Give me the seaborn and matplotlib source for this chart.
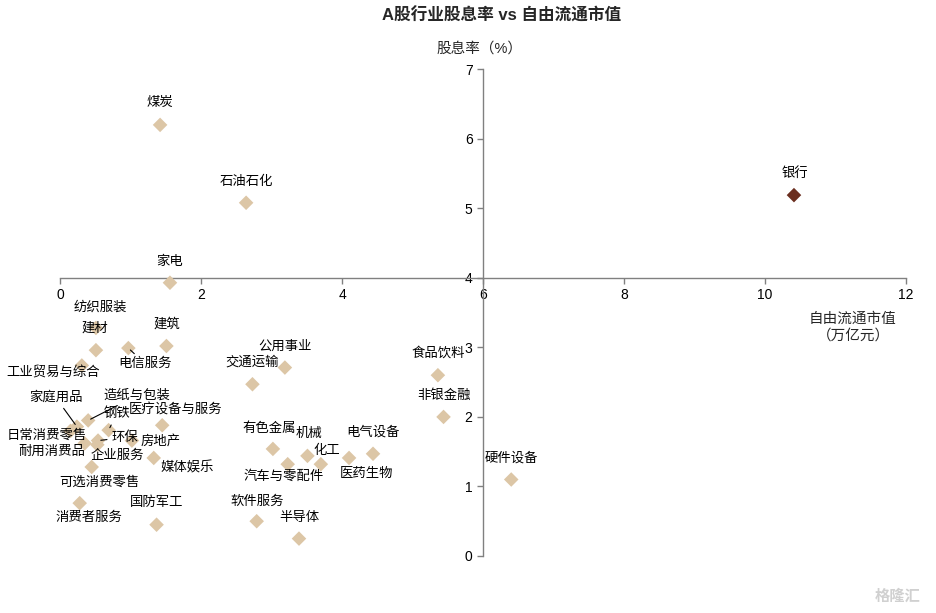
import pandas as pd
import matplotlib.pyplot as plt
import seaborn as sns

# ---------------------- DATA ----------------------
industries = ['煤炭', '石油石化', '家电', '银行', '纺织服装', '建材', '电信服务', '建筑',
              '工业贸易与综合', '公用事业', '交通运输', '食品饮料', '非银金融', '硬件设备',
              '造纸与包装', '家庭用品', '钢铁', '医疗设备与服务', '日常消费零售', '耐用消费品',
              '环保', '企业服务', '房地产', '媒体娱乐', '可选消费零售', '消费者服务', '国防军工',
              '有色金属', '机械', '化工', '电气设备', '医药生物', '汽车与零配件', '软件服务', '半导体']
market_cap = [1.42, 2.64, 1.56, 10.41, 0.51, 0.51, 0.97, 1.51,
              0.31, 3.19, 2.73, 5.36, 5.44, 6.40,
              0.40, 0.24, 0.69, 1.45, 0.15, 0.35,
              0.54, 0.53, 1.02, 1.33, 0.45, 0.28, 1.37,
              3.02, 3.51, 3.70, 4.44, 4.10, 3.23, 2.79, 3.39]
dividend_yield = [6.20, 5.08, 3.93, 5.19, 3.28, 2.96, 2.99, 3.02,
                  2.74, 2.71, 2.47, 2.60, 2.00, 1.10,
                  1.95, 1.86, 1.81, 1.88, 1.80, 1.62,
                  1.66, 1.60, 1.66, 1.41, 1.28, 0.76, 0.45,
                  1.54, 1.44, 1.32, 1.47, 1.41, 1.32, 0.50, 0.25]
highlight = '银行'

df = pd.DataFrame({'行业': industries, '市值': market_cap, '股息率': dividend_yield})
df['组'] = df['行业'].eq(highlight).map({True: 'hl', False: 'other'})

# label offsets in pixels (dx, dy), and which labels get a leader line
offsets = {
    '煤炭': (0, 22), '石油石化': (0, 21), '家电': (0, 21), '银行': (1, 22),
    '纺织服装': (4, 21), '建材': (-1, 22), '电信服务': (17, -16), '建筑': (0, 22),
    '工业贸易与综合': (-29, -8), '公用事业': (0, 21), '交通运输': (0, 22),
    '食品饮料': (0, 22), '非银金融': (0, 21), '硬件设备': (0, 21),
    '造纸与包装': (49, 25), '家庭用品': (-21, 29), '钢铁': (8, 16),
    '医疗设备与服务': (13, 15), '日常消费零售': (-24, -5), '耐用消费品': (-33, -8),
    '环保': (27, 3), '企业服务': (20, -11), '房地产': (29, -1), '媒体娱乐': (33, -10),
    '可选消费零售': (8, -16), '消费者服务': (9, -15), '国防军工': (0, 22),
    '有色金属': (-4, 20), '机械': (2, 22), '化工': (6, 13), '电气设备': (0, 22),
    '医药生物': (17, -16), '汽车与零配件': (-4, -12), '软件服务': (1, 20), '半导体': (0, 21),
}
leaders = ['电信服务', '造纸与包装', '家庭用品', '钢铁', '环保']

# ---------------------- PLOT ----------------------
sns.set_style('white')
plt.rcParams['font.family'] = ['Liberation Sans', 'Noto Sans CJK SC', 'DejaVu Sans']

fig = plt.figure(figsize=(9.37, 6.13), dpi=100)
ax = fig.add_axes([0.064, 0.093, 0.903, 0.794])

sns.scatterplot(data=df, x='市值', y='股息率', hue='组', marker='D', s=55,
                palette={'other': '#DCC6A6', 'hl': '#6B2E1F'}, edgecolor='none',
                legend=False, ax=ax, zorder=3)

for name, x, y in zip(df['行业'], df['市值'], df['股息率']):
    dx, dy = offsets[name]
    kw = {}
    if name in leaders:
        kw['arrowprops'] = dict(arrowstyle='-', color='black', lw=0.8, shrinkA=1, shrinkB=2)
    ax.annotate(name, (x, y), xytext=(dx, dy), textcoords='offset pixels',
                ha='center', va='center', fontsize=9.6, color='black', zorder=4, **kw)

ax.set_xlim(0, 12)
ax.set_ylim(0, 7)
ax.set_xticks(range(0, 13, 2))
ax.set_yticks(range(0, 8))

for s in ['top', 'right']:
    ax.spines[s].set_visible(False)
ax.spines['left'].set_position(('data', 6))
ax.spines['bottom'].set_position(('data', 4))
for s in ['left', 'bottom']:
    ax.spines[s].set_color('#808080')
    ax.spines[s].set_linewidth(1)
ax.tick_params(axis='both', colors='#808080', labelcolor='black', labelsize=10,
               length=4, width=1, direction='out')
ax.tick_params(axis='both', bottom=True, left=True)

ax.set_xlabel('')
ax.set_ylabel('')
fig.text(480 / 937, 1 - 49 / 613, '股息率（%）', ha='center', va='center', fontsize=10.5)
fig.text(853 / 937, 1 - 327 / 613, '自由流通市值\n（万亿元）', ha='center', va='center',
         fontsize=10.5, linespacing=1.3)
fig.text(502 / 937, 1 - 15 / 613, 'A股行业股息率 vs 自由流通市值', ha='center', va='center',
         fontsize=12, fontweight='bold')
fig.text(898 / 937, 1 - 597 / 613, '格隆汇', ha='center', va='center', fontsize=11,
         color='#D0D0D0', fontweight='bold')

plt.savefig('out.png', dpi=100)
